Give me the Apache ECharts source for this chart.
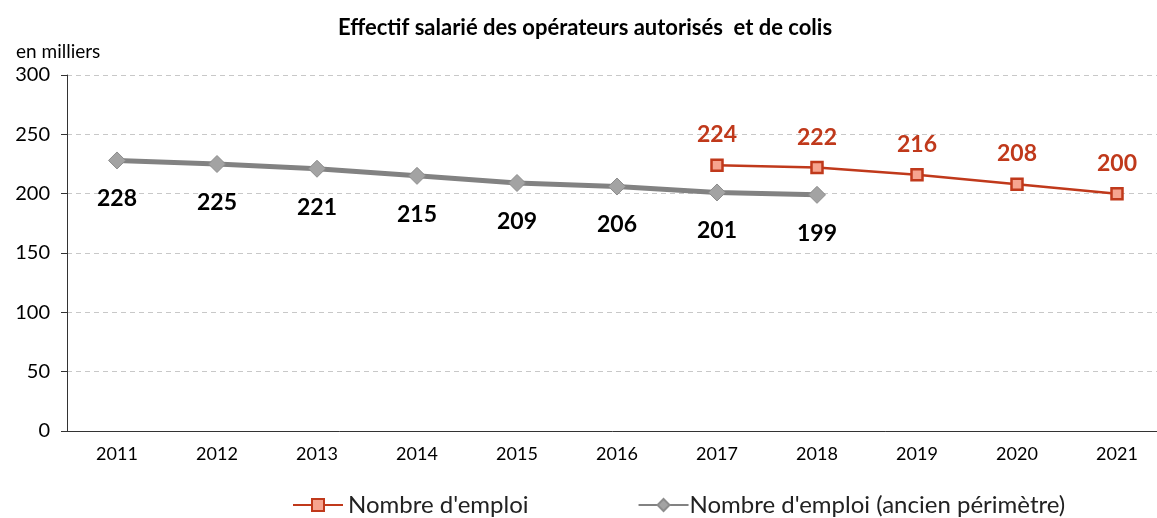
<!DOCTYPE html>
<html>
<head>
<meta charset="utf-8">
<script src="https://cdn.jsdelivr.net/npm/echarts@6/dist/echarts.min.js"></script>
<style>
  html, body { margin: 0; padding: 0; background: #fff; }
  #chart { width: 1157px; height: 518px; }
</style>
</head>
<body>
<div id="chart"></div>
<script>
const years = ["2011", "2012", "2013", "2014", "2015", "2016", "2017", "2018", "2019", "2020", "2021"];
// new perimeter, from 2017
const emploi = [null, null, null, null, null, null, 224, 222, 216, 208, 200];
// old perimeter, up to 2018
const emploiAncien = [228, 225, 221, 215, 209, 206, 201, 199, null, null, null];

const font = "Lato";
const chart = echarts.init(document.getElementById("chart"));

chart.setOption({
  animation: false,
  textStyle: { fontFamily: font },
  title: [
    {
      text: "Effectif salarié des opérateurs autorisés  et de colis",
      left: 333,
      top: 12,
      textStyle: { fontSize: 22, fontWeight: "bold", color: "#000", fontFamily: font }
    },
    {
      text: "en milliers",
      left: 11,
      top: 37,
      textStyle: { fontSize: 19, fontWeight: "normal", color: "#000", fontFamily: font }
    }
  ],
  legend: {
    top: 488,
    left: 287,
    itemGap: 109,
    itemWidth: 50,
    itemHeight: 15,
    textStyle: { fontSize: 24, color: "#222", fontFamily: font },
    data: [
      { name: "Nombre d'emploi" },
      { name: "Nombre d'emploi (ancien périmètre)", textStyle: { padding: [0, 0, 0, -4] } }
    ]
  },
  grid: { left: 67, width: 1100, top: 75, bottom: 87, outerBoundsMode: "none" },
  xAxis: {
    type: "category",
    data: years,
    axisLine: { lineStyle: { color: "#333" } },
    axisTick: { length: 6, lineStyle: { color: "#333" } },
    axisLabel: { fontSize: 18, color: "#000", margin: 14 }
  },
  yAxis: {
    type: "value",
    min: 0,
    max: 300,
    interval: 50,
    axisLine: { show: true, lineStyle: { color: "#333" } },
    axisTick: { show: true, length: 6, lineStyle: { color: "#333" } },
    axisLabel: { fontSize: 20, color: "#000", margin: 17 },
    splitLine: { lineStyle: { color: "#c8c8c8", type: [5, 4] } }
  },
  series: [
    {
      name: "Nombre d'emploi (ancien périmètre)",
      type: "line",
      data: emploiAncien,
      z: 2,
      symbol: "diamond",
      symbolSize: 17,
      lineStyle: { color: "#828282", width: 5 },
      itemStyle: { color: "#a3a3a3", borderColor: "#8c8c8c", borderWidth: 1 },
      label: {
        show: true,
        position: "bottom",
        distance: 18,
        fontSize: 23,
        fontWeight: "bold",
        color: "#000"
      }
    },
    {
      name: "Nombre d'emploi",
      type: "line",
      data: emploi,
      z: 3,
      symbol: "rect",
      symbolSize: 11,
      lineStyle: { color: "#c0391b", width: 2.5 },
      itemStyle: { color: "#f6a48f", borderColor: "#c0391b", borderWidth: 2.5 },
      label: {
        show: true,
        position: "top",
        distance: 12,
        fontSize: 23,
        fontWeight: "bold",
        color: "#c0391b"
      }
    }
  ]
});
</script>
</body>
</html>
